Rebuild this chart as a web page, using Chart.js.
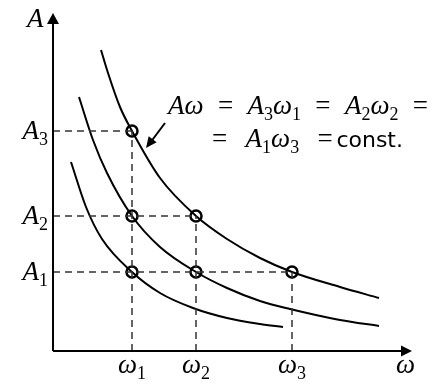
<!DOCTYPE html>
<html><head><meta charset="utf-8">
<script src="https://cdn.jsdelivr.net/npm/chart.js@4"></script>
<style>
html,body{margin:0;padding:0;background:#fff;}
#wrap{width:437px;height:384px;position:relative;}
#c{display:block;}
.lbl{position:absolute;font:italic 27px/27px 'Liberation Serif',serif;white-space:nowrap;color:#000;}
.lbl .s{font-style:normal;font-size:18px;position:relative;top:6px;}
.lbl .r{font-style:normal;}
.lbl .t{font-style:normal;font-family:'DejaVu Sans',sans-serif;font-size:22px;}
.lbl .g{display:inline-block;width:0;}
</style>
</head><body><div id="wrap"><canvas id="c" width="437" height="384"></canvas></div>
<script>
// Frequency levels ω1, ω2, ω3 and amplitude levels A1, A2, A3 (arbitrary units)
const omegaLevels = [79, 143, 239];
const ampLevels = [79, 135, 220];
const levelSubs = ['1', '2', '3'];

// Outer curve: A3ω1 = A2ω2 = A1ω3
const curve3X = [48, 55, 67, 79, 107, 143, 174, 207, 239, 287, 326];
const curve3Y = [301, 278, 244, 220, 173, 135, 112, 93, 79, 64, 53];
// Middle curve: A2ω1 = A1ω2
const curve2X = [26, 40, 54, 79, 107, 143, 174, 207, 237, 287, 326];
const curve2Y = [254, 211, 178, 135, 104, 79, 63, 50, 42, 31, 25];
// Inner curve: through A1ω1
const curve1X = [18, 33, 49, 79, 107, 140, 174, 207, 230];
const curve1Y = [189, 144, 112, 79, 58, 43, 33, 27, 24];

// Marked points: [omega index, amp index]
const markedPairs = [[0,0],[0,1],[0,2],[1,0],[1,1],[2,0]];

const X_MAX = 359, Y_MAX = 338;

function zip(xs, ys){ return xs.map((x,i)=>({x:x, y:ys[i]})); }

const datasets = [];
ampLevels.forEach((a, ai) => {
  const maxW = Math.max(...markedPairs.filter(p=>p[1]===ai).map(p=>omegaLevels[p[0]]));
  datasets.push({data:[{x:0,y:a},{x:maxW,y:a}], showLine:true, borderColor:'#333', borderWidth:1.5, borderDash:[7,5], pointRadius:0, fill:false});
});
omegaLevels.forEach((w, wi) => {
  const maxA = Math.max(...markedPairs.filter(p=>p[0]===wi).map(p=>ampLevels[p[1]]));
  datasets.push({data:[{x:w,y:0},{x:w,y:maxA}], showLine:true, borderColor:'#333', borderWidth:1.5, borderDash:[7,5], pointRadius:0, fill:false});
});
[[curve1X,curve1Y],[curve2X,curve2Y],[curve3X,curve3Y]].forEach(c => {
  datasets.push({data:zip(c[0],c[1]), showLine:true, borderColor:'#000', borderWidth:2, pointRadius:0, cubicInterpolationMode:'monotone', fill:false});
});
datasets.push({data:markedPairs.map(p=>({x:omegaLevels[p[0]], y:ampLevels[p[1]]})), showLine:false, pointRadius:5.5, pointBorderWidth:2.5, pointBorderColor:'#000', pointBackgroundColor:'rgba(0,0,0,0)', pointStyle:'circle'});

const overlay = {
  id:'overlay',
  afterDraw(chart){
    const ctx = chart.ctx, xs = chart.scales.x, ys = chart.scales.y;
    const ox = xs.getPixelForValue(0), oy = ys.getPixelForValue(0);
    const ex = xs.getPixelForValue(X_MAX), ey = ys.getPixelForValue(Y_MAX);
    ctx.save();
    ctx.strokeStyle = '#000'; ctx.fillStyle = '#000'; ctx.lineWidth = 2;
    ctx.beginPath(); ctx.moveTo(ox, oy); ctx.lineTo(ex-8, oy); ctx.moveTo(ox, oy); ctx.lineTo(ox, ey+8); ctx.stroke();
    ctx.beginPath(); ctx.moveTo(ex, oy); ctx.lineTo(ex-11, oy-5.5); ctx.lineTo(ex-11, oy+5.5); ctx.closePath(); ctx.fill();
    ctx.beginPath(); ctx.moveTo(ox, ey); ctx.lineTo(ox-6, ey+11); ctx.lineTo(ox+6, ey+11); ctx.closePath(); ctx.fill();
    const ax0 = 165, ay0 = 123, ax1 = 146, ay1 = 148;
    ctx.beginPath(); ctx.moveTo(ax0, ay0); ctx.lineTo(ax1+4, ay1-5); ctx.stroke();
    const ang = Math.atan2(ay1-ay0, ax1-ax0), L = 11, Wd = 5;
    ctx.beginPath(); ctx.moveTo(ax1, ay1);
    ctx.lineTo(ax1 - L*Math.cos(ang) + Wd*Math.sin(ang), ay1 - L*Math.sin(ang) - Wd*Math.cos(ang));
    ctx.lineTo(ax1 - L*Math.cos(ang) - Wd*Math.sin(ang), ay1 - L*Math.sin(ang) + Wd*Math.cos(ang));
    ctx.closePath(); ctx.fill();
    ctx.restore();
  }
};

const chart = new Chart(document.getElementById('c'), {
  type:'scatter',
  data:{datasets:datasets},
  options:{
    responsive:false, devicePixelRatio:1, animation:false,
    layout:{padding:{left:53, right:25, top:13, bottom:33}},
    plugins:{legend:{display:false}, tooltip:{enabled:false}},
    scales:{
      x:{type:'linear', min:0, max:X_MAX, display:false},
      y:{type:'linear', min:0, max:Y_MAX, display:false}
    }
  },
  plugins:[overlay]
});

// Text labels (real DOM text) placed from the chart's scales
const wrap = document.getElementById('wrap');
const ASC = 22.6;
function mkLabel(html, x, baseline, align){
  const d = document.createElement('div');
  d.className = 'lbl'; d.innerHTML = html;
  d.style.left = x + 'px'; d.style.top = (baseline - ASC) + 'px';
  if (align === 'right') d.style.transform = 'translateX(-100%)';
  else if (align === 'center') d.style.transform = 'translateX(-50%)';
  wrap.appendChild(d); return d;
}
function sym(main, sub){ return main + (sub ? '<span class="s">' + sub + '</span>' : ''); }
function mathFit(x0, x1, baseline, parts){
  let html = '';
  parts.forEach(p => {
    if (p.g) html += '<span class="g" data-g="' + p.g + '"></span>';
    else html += '<span class="' + p.k + '">' + p.t + '</span>';
  });
  const d = mkLabel(html, x0, baseline, 'left');
  const w = d.getBoundingClientRect().width;
  const gs = d.querySelectorAll('.g');
  let tot = 0; gs.forEach(g => tot += parseFloat(g.dataset.g));
  const unit = Math.max(0, (x1 - x0 - w) / tot);
  gs.forEach(g => g.style.width = (parseFloat(g.dataset.g) * unit) + 'px');
}

const xs = chart.scales.x, ys = chart.scales.y;
const ox = xs.getPixelForValue(0);
mkLabel(sym('A'), 27, 28, 'left');
mkLabel(sym('ω'), 396, 374, 'left');
ampLevels.forEach((a,i) => mkLabel(sym('A', levelSubs[i]), ox - 5, ys.getPixelForValue(a) + 9, 'right'));
omegaLevels.forEach((w,i) => mkLabel(sym('ω', levelSubs[i]), xs.getPixelForValue(w), 374, 'center'));
mathFit(168, 428, 115, [
  {k:'i',t:'A'},{k:'i',t:'ω'},{g:1},{k:'r',t:'='},{g:1},
  {k:'i',t:'A'},{k:'s',t:'3'},{k:'i',t:'ω'},{k:'s',t:'1'},{g:1},{k:'r',t:'='},{g:1},
  {k:'i',t:'A'},{k:'s',t:'2'},{k:'i',t:'ω'},{k:'s',t:'2'},{g:1},{k:'r',t:'='}
]);
mathFit(212, 403, 148, [
  {k:'r',t:'='},{g:1},{k:'i',t:'A'},{k:'s',t:'1'},{k:'i',t:'ω'},{k:'s',t:'3'},{g:1},{k:'r',t:'='},{g:0.2},{k:'t',t:'const.'}
]);
</script></body></html>
